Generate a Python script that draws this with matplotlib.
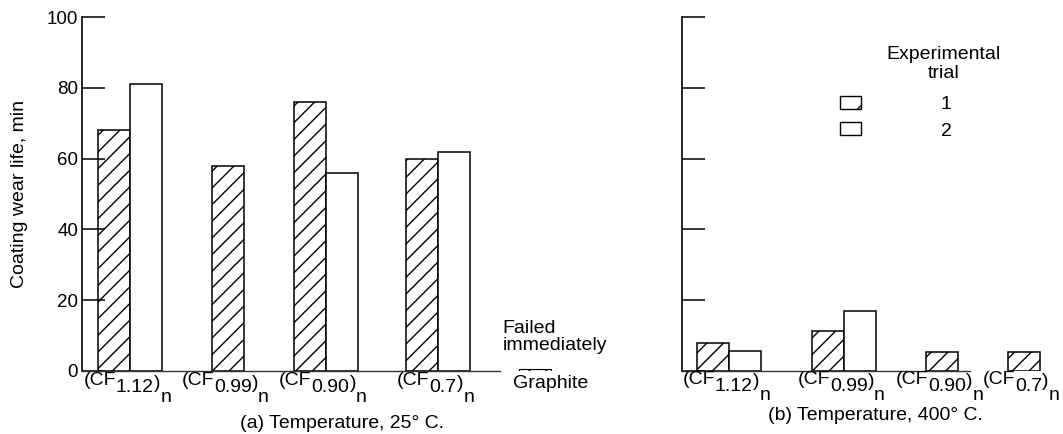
import numpy as np
import matplotlib
matplotlib.use("Agg")
import matplotlib.pyplot as plt
from matplotlib.patches import Patch
from matplotlib.offsetbox import TextArea, HPacker, VPacker, DrawingArea, AnnotationBbox

FONT = ["Liberation Sans", "DejaVu Sans"]
plt.rcParams["font.family"] = FONT
plt.rcParams["hatch.linewidth"] = 1.0
FS = 14

# values (coating wear life, min)
subscripts = ["1.12", "0.99", "0.90", "0.7"]
wear_25_trial1 = [68, 58, 76, 60]
wear_25_trial2 = [81, np.nan, 56, 62]
graphite_25 = 0.6          # graphite failed immediately
wear_400_trial1 = [7.7, 11.3, 5.2, 5.2]
wear_400_trial2 = [5.7, 17, np.nan, np.nan]
yticks = [0, 20, 40, 60, 80, 100]

# layout (group centres along x, in bar-group units)
pos_25 = [0.493, 1.493, 2.493, 3.643]
pos_graphite = 4.626
pos_400 = [0.483, 1.656, 2.656, 3.493]
bar_w = 0.327


def draw_groups(ax, pos, t1, t2):
    pos = np.array(pos)
    t1 = np.array(t1, float)
    t2 = np.array(t2, float)
    has2 = ~np.isnan(t2)
    x1 = np.where(has2, pos - bar_w / 2, pos)
    ax.bar(x1, t1, bar_w, color="white", edgecolor="black", hatch="//", lw=1.1)
    ax.bar((pos + bar_w / 2)[has2], t2[has2], bar_w, color="white",
           edgecolor="black", lw=1.1)


def formula_label(ax, x, sub, dy=-1):
    # (CF_sub)_n with full size subscripts like the original typesetting
    parts = [("(CF", 0), (sub, 5), (")", 2), ("n", 12)]
    boxes = []
    for s, drop in parts:
        ta = TextArea(s, textprops=dict(fontsize=FS, family=FONT))
        if drop:
            boxes.append(VPacker(children=[DrawingArea(0, drop), ta],
                                 pad=0, sep=0, align="left"))
        else:
            boxes.append(ta)
    box = HPacker(children=boxes, align="top", pad=0, sep=0)
    ab = AnnotationBbox(box, (x, 0), xycoords=("data", "axes fraction"),
                        xybox=(-2, dy), boxcoords="offset points",
                        box_alignment=(0.5, 1.0), frameon=False, pad=0,
                        annotation_clip=False)
    ax.add_artist(ab)


def style_axes(ax, xmax, base_end, labels=True):
    ax.set_xlim(0, xmax)
    ax.set_ylim(0, 100)
    ax.set_yticks(yticks)
    ax.set_xticks([])
    ax.spines[["top", "right"]].set_visible(False)
    ax.spines["left"].set_linewidth(1.2)
    ax.spines["bottom"].set_linewidth(1.0)
    ax.spines["bottom"].set_color("#333333")
    ax.spines["bottom"].set_bounds(0, base_end)
    ax.tick_params(axis="y", direction="in", length=16.5, width=1.1,
                   pad=2.5, labelsize=13.5, labelleft=labels)


fig = plt.figure(figsize=(10.63, 4.34), dpi=100)
ax1 = fig.add_axes([0.07686, 0.14585, 0.48824, 0.81429])
ax2 = fig.add_axes([0.6413, 0.14585, 0.3587, 0.81429])

# (a) 25 C
draw_groups(ax1, pos_25, wear_25_trial1, wear_25_trial2)
ax1.bar(pos_graphite, graphite_25, bar_w, color="white", edgecolor="black",
        hatch="//", lw=0.8)
style_axes(ax1, 5.3, 4.268)
for p, s in zip(pos_25, subscripts):
    formula_label(ax1, p, s)
ax1.annotate("Graphite", (4.40, 0), xycoords=("data", "axes fraction"),
             xytext=(0, -3), textcoords="offset points", ha="left", va="top",
             fontsize=FS, annotation_clip=False)
ax1.text(4.30, 14.4, "Failed\nimmediately", ha="left", va="top",
         fontsize=FS, linespacing=1.05)
ax1.set_ylabel("Coating wear life, min", fontsize=FS)
ax1.yaxis.set_label_coords(-0.103, 0.5)

# (b) 400 C
draw_groups(ax2, pos_400, wear_400_trial1, wear_400_trial2)
style_axes(ax2, 3.891, 2.942, labels=False)
for p, s in zip(pos_400, subscripts):
    formula_label(ax2, p, s, dy=0)

handles = [Patch(facecolor="white", edgecolor="black", hatch="/", label="1"),
           Patch(facecolor="white", edgecolor="black", label="2")]
ax2.legend(handles=handles, loc="upper left", bbox_to_anchor=(840 / 1063, 1 - 96 / 434),
           bbox_transform=fig.transFigure, frameon=False, borderpad=0,
           borderaxespad=0, handlelength=1.08, handleheight=0.66,
           handletextpad=4.1, labelspacing=0.45, fontsize=FS)
fig.text(944 / 1063, 1 - 64 / 434, "Experimental\ntrial", ha="center",
         va="center", fontsize=FS, linespacing=1.1)

fig.text(342 / 1063, 1 - 423 / 434, "(a) Temperature, 25° C.", ha="center",
         va="center", fontsize=FS)
fig.text(875 / 1063, 1 - 415 / 434, "(b) Temperature, 400° C.", ha="center",
         va="center", fontsize=FS)

fig.savefig("out.png", dpi=100)
